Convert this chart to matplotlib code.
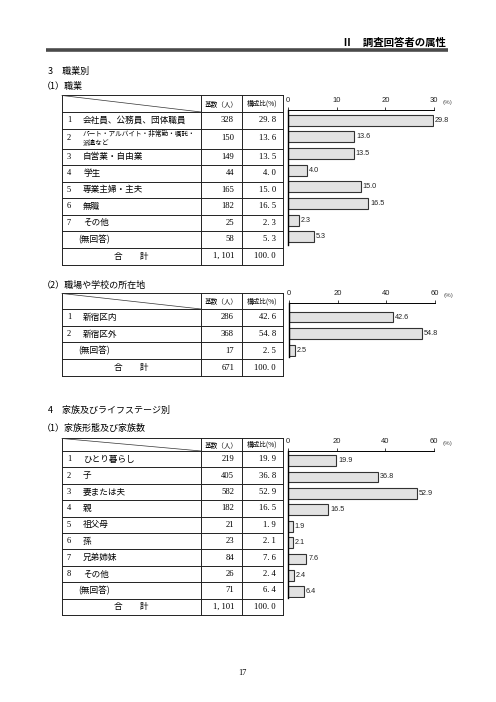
import matplotlib
matplotlib.use('Agg')
import matplotlib.pyplot as plt

plt.rcParams['font.family'] = ['Noto Sans CJK JP', 'DejaVu Sans']

W, H = 496, 702

# --- data ---
job_labels = ['会社員、公務員、団体職員', 'パート・アルバイト・非常勤・嘱託・\n派遣など',
              '自営業・自由業', '学生', '専業主婦・主夫', '無職', 'その他']
job_counts = [328, 150, 149, 44, 165, 182, 25]
job_pct = [29.8, 13.6, 13.5, 4.0, 15.0, 16.5, 2.3]
job_na = (58, 5.3)
job_total = 1101

place_labels = ['新宿区内', '新宿区外']
place_counts = [286, 368]
place_pct = [42.6, 54.8]
place_na = (17, 2.5)
place_total = 671

family_labels = ['ひとり暮らし', '子', '妻または夫', '親', '祖父母', '孫', '兄弟姉妹', 'その他']
family_counts = [219, 405, 582, 182, 21, 23, 84, 26]
family_pct = [19.9, 36.8, 52.9, 16.5, 1.9, 2.1, 7.6, 2.4]
family_na = (71, 6.4)
family_total = 1101

SERIF = 'Liberation Serif'
SANS = 'Liberation Sans'

fig = plt.figure(figsize=(W / 100, H / 100), dpi=100)
fig.patch.set_facecolor('white')

# page axes in pixel coordinates (for headings and tables)
page = fig.add_axes([0, 0, 1, 1])
page.set_xlim(0, W)
page.set_ylim(H, 0)
page.axis('off')


def fmt_num(n):
    return f'{n:,}'.replace(',', ', ')


def fmt_pct(v):
    return f'{v:.1f}'.replace('.', '. ')


def draw_table(top, row_h, labels, counts, pcts, na, total, small_rows=()):
    left, c1, c2, right = 62, 201, 242, 283
    edges = [top]
    for h in row_h:
        edges.append(edges[-1] + h)
    bottom = edges[-1]
    for y in edges:
        page.plot([left, right], [y, y], color='#222', lw=0.7)
    for x in (left, c1, c2, right):
        page.plot([x, x], [top, bottom], color='#222', lw=0.7)
    page.plot([left, c1], [top + 0.5, edges[1]], color='#333', lw=0.5)
    mid = lambda i: (edges[i] + edges[i + 1]) / 2
    page.text((c1 + c2) / 2, mid(0) + 0.5, '基数（人）', ha='center', va='center', fontsize=4.8)
    page.text((c2 + right) / 2, mid(0) + 0.5, '構成比(%)', ha='center', va='center', fontsize=4.8)
    rows = list(zip(labels, counts, pcts))
    for i, (lab, c, p) in enumerate(rows):
        y = mid(i + 1)
        page.text(69, y, str(i + 1), ha='center', va='center', fontsize=6, family=SERIF)
        fs = 4.8 if i in small_rows else 6.2
        page.text(83, y, lab, ha='left', va='center', fontsize=fs, linespacing=1.3)
        page.text(234, y, fmt_num(c), ha='right', va='center', fontsize=6.2, family=SERIF)
        page.text(276, y, fmt_pct(p), ha='right', va='center', fontsize=6.2, family=SERIF)
    y = mid(len(rows) + 1)
    page.text(78, y, '(無回答)', ha='left', va='center', fontsize=6.2)
    page.text(234, y, fmt_num(na[0]), ha='right', va='center', fontsize=6.2, family=SERIF)
    page.text(276, y, fmt_pct(na[1]), ha='right', va='center', fontsize=6.2, family=SERIF)
    y = mid(len(rows) + 2)
    page.text(131, y, '合　　計', ha='center', va='center', fontsize=6.2)
    page.text(234, y, fmt_num(total), ha='right', va='center', fontsize=6.2, family=SERIF)
    page.text(276, y, fmt_pct(100.0), ha='right', va='center', fontsize=6.2, family=SERIF)


def bar_chart(x0, y0, y1, values, xmax, ticks, ylim):
    ax = fig.add_axes([x0 / W, 1 - y1 / H, 146 / W, (y1 - y0) / H])
    pos = list(range(len(values)))
    ax.barh(pos, values, height=0.66, color='#e2e2e2', edgecolor='#333', linewidth=0.8)
    for p, v in zip(pos, values):
        ax.text(v + xmax * 0.012, p, f'{v:.1f}', ha='left', va='center',
                fontsize=5.2, family=SANS, color='#222')
    ax.set_xlim(0, xmax)
    ax.set_ylim(*ylim)
    ax.xaxis.tick_top()
    ax.set_xticks(ticks)
    ax.tick_params(axis='x', direction='out', length=2.5, width=0.6, labelsize=5.5, pad=1.5,
                   colors='#222')
    for lab in ax.get_xticklabels():
        lab.set_family(SANS)
    ax.set_yticks([])
    ax.spines['right'].set_visible(False)
    ax.spines['bottom'].set_visible(False)
    ax.spines['top'].set_linewidth(0.7)
    ax.spines['left'].set_linewidth(1.0)
    ax.set_facecolor('none')
    ax.annotate('(%)', xy=(xmax, 1), xycoords=('data', 'axes fraction'), xytext=(6, 3.3),
                textcoords='offset points', ha='left', va='bottom', fontsize=4.5,
                family=SANS, color='#555')
    return ax


# --- page header ---
page.plot([46, 448], [50, 50], color='#4a4a4a', lw=2.6, solid_capstyle='butt')
page.text(446, 43, 'Ⅱ　調査回答者の属性', ha='right', va='center', fontsize=7.5, fontweight='bold')

# --- 3 職業別 ---
page.text(48, 71, '3　職業別', ha='left', va='center', fontsize=6.5)
page.text(42, 87, '（1）職業', ha='left', va='center', fontsize=6.5)
draw_table(95, [17, 16.5, 20, 16.5, 16.5, 16.5, 16.5, 16.5, 16.5, 17],
           job_labels, job_counts, job_pct, job_na, job_total, small_rows=(1,))
bar_chart(288, 110, 245, job_pct + [job_na[1]], 30, [0, 10, 20, 30], (7.48, -0.6))

# --- (2) 職場や学校の所在地 ---
page.text(42, 285, '（2）職場や学校の所在地', ha='left', va='center', fontsize=6.5)
draw_table(293, [16, 16.7, 16.7, 16.7, 16.9],
           place_labels, place_counts, place_pct, place_na, place_total)
bar_chart(289, 303, 357, place_pct + [place_na[1]], 60, [0, 20, 40, 60], (2.42, -0.85))

# --- 4 家族及びライフステージ別 ---
page.text(48, 410, '4　家族及びライフステージ別', ha='left', va='center', fontsize=6.5)
page.text(42, 428, '（1）家族形態及び家族数', ha='left', va='center', fontsize=6.5)
draw_table(438, [13] + [16.4] * 10,
           family_labels, family_counts, family_pct, family_na, family_total)
bar_chart(288, 451, 598, family_pct + [family_na[1]], 60, [0, 20, 40, 60], (8.38, -0.58))

# page number
page.text(242, 673, '17', ha='center', va='center', fontsize=6, family=SERIF)

fig.savefig('out.png', dpi=100, facecolor='white')
